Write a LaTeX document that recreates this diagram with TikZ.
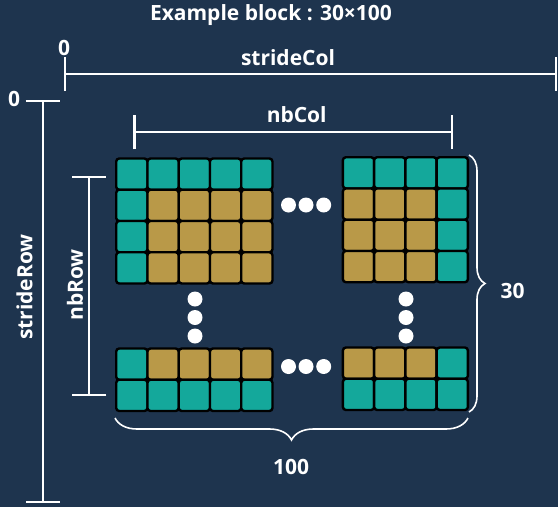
\documentclass[tikz,border=0pt]{standalone}
\usepackage{fontspec}
\setmainfont{Open Sans}
\usetikzlibrary{positioning,arrows.meta,decorations.pathreplacing}
\definecolor{navy}{HTML}{1E344E}
\definecolor{tealc}{HTML}{14A89B}
\definecolor{goldc}{HTML}{B99948}
\newcommand{\cellw}{31.25}

\begin{document}
\begin{tikzpicture}[x=1pt,y=-1pt,font=\bfseries\fontsize{21}{24}\selectfont,
  lbl/.style={text=white,inner sep=0pt},
  dim/.style={draw=white,line width=2.2pt,{Bar[width=34pt]}-{Bar[width=34pt]}},
  brc/.style={draw=white,line width=1.6pt,decorate,decoration={brace,amplitude=#1}},
  cellT/.style={draw=black,fill=tealc,line width=2.4pt,rounded corners=3pt,
    minimum size=\cellw pt,inner sep=0pt,outer sep=0pt},
  cellG/.style={cellT,fill=goldc},
  dot/.style={circle,fill=white,inner sep=0pt,minimum size=15pt}]
  \fill[navy] (0,0) rectangle (558,507);
  \useasboundingbox (0,0) rectangle (558,507);
  % --- title ---
  \node[lbl] (title) at (271,15) {Example block : 30×100};
  % --- strides ---
  \coordinate (col0) at (64,74); \coordinate (colEnd) at (557,74);
  \draw[dim] (col0) -- (colEnd);
  \node[lbl] (zeroCol) at (64,48) {0};
  \node[lbl] (strideCol) at (288,58) {strideCol};
  \coordinate (row0) at (42.7,99.5); \coordinate (rowEnd) at (42.7,503);
  \draw[dim] (row0) -- (rowEnd);
  \node[lbl] (zeroRow) at (14,99) {0};
  \node[lbl,rotate=90] (strideRow) at (24.5,287) {strideRow};
  % --- nbCol / nbRow ---
  \coordinate (nbc0) at (133.3,132.3); \coordinate (nbc1) at (452.7,132.3);
  \draw[dim] (nbc0) -- (nbc1);
  \node[lbl] (nbCol) at (296.7,115) {nbCol};
  \coordinate (nbr0) at (89.3,176); \coordinate (nbr1) at (89.3,396);
  \draw[dim] (nbr0) -- (nbr1);
  \node[lbl,rotate=90] (nbRow) at (75,285) {nbRow};
  % --- block top left ---
  \begin{scope}[shift={(116.2,158.5)}]
    \foreach \c in {0,...,4} \node[cellT] (tl-0-\c) at ({(\c+0.5)*\cellw},{0.5*\cellw}) {};
    \foreach \r in {1,2,3} {
      \node[cellT] (tl-\r-0) at ({0.5*\cellw},{(\r+0.5)*\cellw}) {};
      \foreach \c in {1,...,4} \node[cellG] (tl-\r-\c) at ({(\c+0.5)*\cellw},{(\r+0.5)*\cellw}) {};
    }
  \end{scope}
  % --- block top right ---
  \begin{scope}[shift={(342.9,157.2)}]
    \foreach \c in {0,...,3} \node[cellT] (tr-0-\c) at ({(\c+0.5)*\cellw},{0.5*\cellw}) {};
    \foreach \r in {1,2,3} {
      \foreach \c in {0,1,2} \node[cellG] (tr-\r-\c) at ({(\c+0.5)*\cellw},{(\r+0.5)*\cellw}) {};
      \node[cellT] (tr-\r-3) at ({3.5*\cellw},{(\r+0.5)*\cellw}) {};
    }
  \end{scope}
  % --- block bottom left ---
  \begin{scope}[shift={(116.2,348.5)}]
    \node[cellT] (bl-0-0) at ({0.5*\cellw},{0.5*\cellw}) {};
    \foreach \c in {1,...,4} \node[cellG] (bl-0-\c) at ({(\c+0.5)*\cellw},{0.5*\cellw}) {};
    \foreach \c in {0,...,4} \node[cellT] (bl-1-\c) at ({(\c+0.5)*\cellw},{1.5*\cellw}) {};
  \end{scope}
  % --- block bottom right ---
  \begin{scope}[shift={(342.9,347.5)}]
    \foreach \c in {0,1,2} \node[cellG] (br-0-\c) at ({(\c+0.5)*\cellw},{0.5*\cellw}) {};
    \node[cellT] (br-0-3) at ({3.5*\cellw},{0.5*\cellw}) {};
    \foreach \c in {0,...,3} \node[cellT] (br-1-\c) at ({(\c+0.5)*\cellw},{1.5*\cellw}) {};
  \end{scope}
  % --- dots ---
  \node[dot] (ht1) at (288.5,205) {}; \node[dot] (ht2) at (306,205) {}; \node[dot] (ht3) at (323.7,205) {};
  \node[dot] (hb1) at (288.5,366.5) {}; \node[dot] (hb2) at (306,366.5) {}; \node[dot] (hb3) at (323.7,366.5) {};
  \node[dot] (vl1) at (195,299) {}; \node[dot] (vl2) at (195,317.5) {}; \node[dot] (vl3) at (195,336) {};
  \node[dot] (vr1) at (406,299) {}; \node[dot] (vr2) at (406,317.5) {}; \node[dot] (vr3) at (406,336) {};
  % --- braces ---
  \coordinate (b30a) at (469,155); \coordinate (b30b) at (469,412);
  \draw[brc=16pt] (b30a) -- (b30b);
  \node[lbl] (thirty) at (512.5,291) {30};
  \coordinate (b100a) at (468,418); \coordinate (b100b) at (115,418);
  \draw[brc=22pt] (b100a) -- (b100b);
  \node[lbl] (hundred) at (291,466.5) {100};
\end{tikzpicture}
\end{document}
